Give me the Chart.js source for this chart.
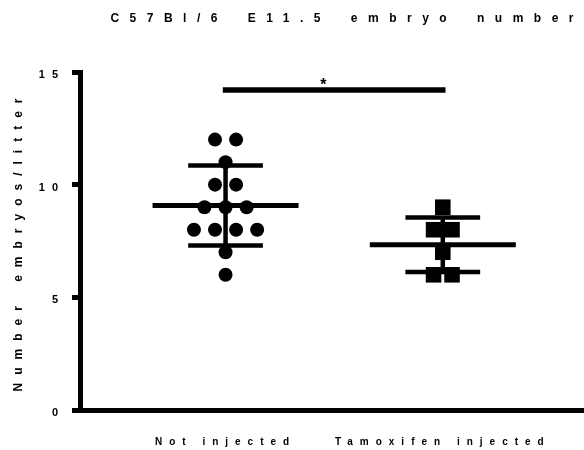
<!DOCTYPE html>
<html>
<head>
<meta charset="utf-8">
<script src="https://cdn.jsdelivr.net/npm/chart.js@4.4.1/dist/chart.umd.min.js"></script>
<style>
    html, body { margin: 0; padding: 0; background: #fff; overflow: hidden; }
    canvas { display: block; }
</style>
</head>
<body>
<canvas id="embryoChart" width="584" height="450"></canvas>
<script>
// values
const groups = ['Not injected', 'Tamoxifen injected'];
const notInjected = [12, 12, 11, 10, 10, 9, 9, 9, 8, 8, 8, 8, 7, 6];
const tamoxifen = [9, 8, 8, 7, 6, 6];
const yTicks = [0, 5, 10, 15];
const sigBarY = 14.2;
const sigStarX = 1.45;
const sigText = '*';

const titleText = 'C57Bl/6 E11.5 embryo number';
const yTitle = 'Number embryos/litter';

// spread equal values side by side, like a scatter dot plot
function spread(values, center, step) {
    const counts = {};
    values.forEach(v => counts[v] = (counts[v] || 0) + 1);
    const seen = {};
    return values.map(v => {
        seen[v] = (seen[v] === undefined) ? 0 : seen[v] + 1;
        return { x: center + (seen[v] - (counts[v] - 1) / 2) * step, y: v };
    });
}

function meanSd(values) {
    const m = values.reduce((a, b) => a + b, 0) / values.length;
    const v = values.reduce((a, b) => a + (b - m) * (b - m), 0) / (values.length - 1);
    return { mean: m, sd: Math.sqrt(v) };
}

const MEAN_HALF = 0.336;
const CAP_HALF = 0.172;

function errorSets(values, center) {
    const s = meanSd(values);
    const line = (pts, w) => ({
        type: 'scatter',
        data: pts,
        showLine: true,
        borderColor: '#000',
        borderWidth: w,
        pointRadius: 0
    });
    return [
        line([{ x: center - MEAN_HALF, y: s.mean }, { x: center + MEAN_HALF, y: s.mean }], 5),
        line([{ x: center - CAP_HALF, y: s.mean + s.sd }, { x: center + CAP_HALF, y: s.mean + s.sd }], 4.5),
        line([{ x: center - CAP_HALF, y: s.mean - s.sd }, { x: center + CAP_HALF, y: s.mean - s.sd }], 4.5),
        line([{ x: center, y: s.mean - s.sd }, { x: center, y: s.mean + s.sd }], 4.5)
    ];
}

// wide letter spacing like the exported figure
function withSpacing(obj, name, letter, word) {
    if (!obj || !obj[name] || obj[name]._spaced) return;
    const orig = obj[name];
    const fn = function (...args) {
        const ctx = this.ctx;
        ctx.save();
        ctx.letterSpacing = letter + 'px';
        ctx.wordSpacing = word + 'px';
        orig.apply(this, args);
        ctx.restore();
    };
    fn._spaced = true;
    obj[name] = fn;
}

const spacingPlugin = {
    id: 'spacing',
    beforeDraw(chart) {
        withSpacing(chart.titleBlock, 'draw', 10.5, 6);
        withSpacing(chart.scales.y, 'drawLabels', 7, 0);
        withSpacing(chart.scales.y, 'drawTitle', 8, 5);
        withSpacing(chart.scales.x, 'drawLabels', 7, 0);
    }
};

const sigPlugin = {
    id: 'sigStar',
    afterDatasetsDraw(chart) {
        const ctx = chart.ctx;
        ctx.save();
        ctx.fillStyle = '#000';
        ctx.font = 'bold 16px "Liberation Sans", Arial, sans-serif';
        ctx.textAlign = 'center';
        ctx.textBaseline = 'alphabetic';
        ctx.fillText(sigText, chart.scales.x.getPixelForValue(sigStarX), chart.scales.y.getPixelForValue(sigBarY));
        ctx.restore();
    }
};

const font = (size) => ({ family: '"Liberation Sans", Arial, sans-serif', size: size, weight: 'bold' });

new Chart(document.getElementById('embryoChart'), {
    type: 'scatter',
    data: {
        datasets: [
            {
                data: spread(notInjected, 1, 0.097),
                pointStyle: 'circle',
                pointRadius: 7,
                pointBorderWidth: 0,
                backgroundColor: '#000'
            },
            {
                data: spread(tamoxifen, 2, 0.085),
                pointStyle: 'rect',
                pointRadius: 11,
                pointBorderWidth: 0,
                backgroundColor: '#000'
            },
            ...errorSets(notInjected, 1),
            ...errorSets(tamoxifen, 2),
            {
                data: [{ x: 1, y: sigBarY }, { x: 2, y: sigBarY }],
                showLine: true,
                borderColor: '#000',
                borderWidth: 5.5,
                borderCapStyle: 'square',
                pointRadius: 0
            }
        ]
    },
    options: {
        responsive: false,
        animation: false,
        events: [],
        layout: { padding: 0, autoPadding: false },
        plugins: {
            legend: { display: false },
            tooltip: { enabled: false },
            title: {
                display: true,
                text: titleText,
                align: 'end',
                color: '#000',
                font: font(12),
                padding: { top: 11, bottom: 46.6 }
            }
        },
        scales: {
            x: {
                type: 'linear',
                min: 0.33,
                max: 2.65,
                afterBuildTicks: axis => { axis.ticks = groups.map((g, i) => ({ value: i + 1 })); },
                afterFit: axis => { axis.height = 40; },
                // tick marks hidden, their length only pushes the labels down
                grid: { display: false, drawTicks: true, tickLength: 26 },
                border: { display: true, color: '#000', width: 5 },
                ticks: {
                    color: '#000',
                    font: font(10),
                    padding: 0,
                    maxRotation: 0,
                    callback: v => groups[v - 1]
                }
            },
            y: {
                min: 0,
                max: 15,
                afterBuildTicks: axis => { axis.ticks = yTicks.map(v => ({ value: v })); },
                afterFit: axis => { axis.width = 80; },
                grid: {
                    display: true,
                    drawOnChartArea: false,
                    drawTicks: true,
                    tickLength: 8,
                    lineWidth: 5,
                    color: '#000'
                },
                border: { display: true, color: '#000', width: 5 },
                ticks: {
                    color: '#000',
                    font: font(11),
                    padding: 7,
                    labelOffset: 3
                },
                title: {
                    display: true,
                    text: yTitle,
                    color: '#000',
                    font: font(12),
                    padding: { top: 11, bottom: 0 }
                }
            }
        }
    },
    plugins: [spacingPlugin, sigPlugin]
});
</script>
</body>
</html>
